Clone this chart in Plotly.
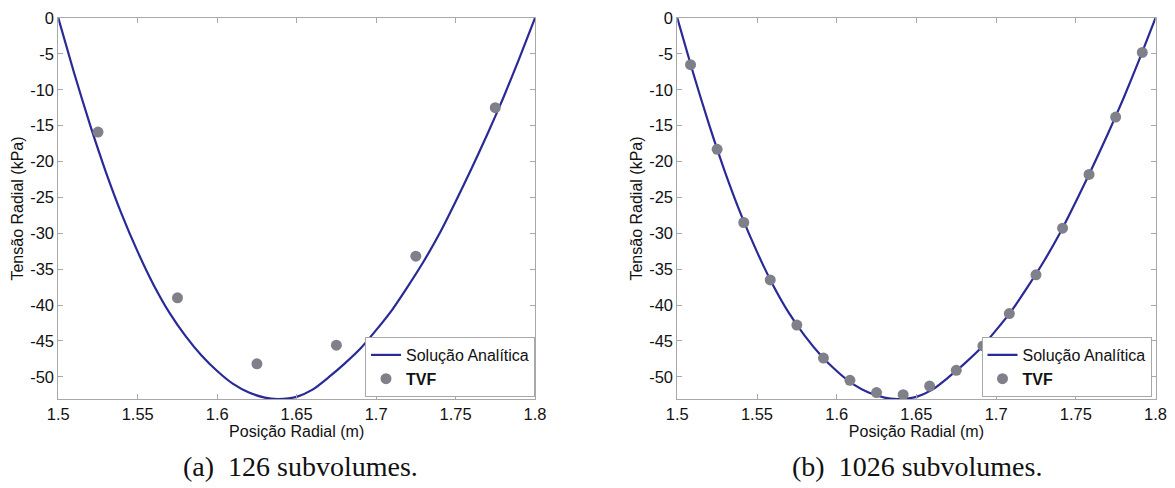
import plotly.graph_objects as go

# Analytical solution
curve_x = [1.500, 1.510, 1.520, 1.530, 1.540, 1.550, 1.560, 1.570, 1.580, 1.590,
           1.600, 1.610, 1.620, 1.630, 1.638, 1.645, 1.650, 1.660, 1.670, 1.680,
           1.690, 1.700, 1.710, 1.720, 1.730, 1.740, 1.750, 1.760, 1.770, 1.780,
           1.790, 1.800]
curve_y = [0.0, -7.7, -14.9, -21.5, -27.4, -32.6, -37.2, -41.1, -44.3, -47.0,
           -49.2, -51.0, -52.2, -52.9, -53.1, -53.0, -52.8, -51.8, -50.1, -48.2,
           -46.1, -43.5, -40.7, -37.4, -33.9, -30.0, -25.6, -21.0, -16.2, -11.15,
           -5.7, 0.0]

# TVF, 126 subvolumes
tvf_a_x = [1.525, 1.575, 1.625, 1.675, 1.725, 1.775]
tvf_a_y = [-15.9, -39.0, -48.2, -45.6, -33.2, -12.5]

# TVF, 1026 subvolumes
tvf_b_x = [1.5083, 1.5250, 1.5417, 1.5583, 1.5750, 1.5917, 1.6083, 1.6250, 1.6417,
           1.6583, 1.6750, 1.6917, 1.7083, 1.7250, 1.7417, 1.7583, 1.7750, 1.7917]
tvf_b_y = [-6.5, -18.3, -28.5, -36.5, -42.8, -47.4, -50.5, -52.2, -52.5,
           -51.3, -49.1, -45.7, -41.2, -35.8, -29.3, -21.8, -13.8, -4.8]

x_ticks = [1.5, 1.55, 1.6, 1.65, 1.7, 1.75, 1.8]
x_labels = ["1.5", "1.55", "1.6", "1.65", "1.7", "1.75", "1.8"]
y_ticks = [0, -5, -10, -15, -20, -25, -30, -35, -40, -45, -50]
y_labels = ["0", "-5", "-10", "-15", "-20", "-25", "-30", "-35", "-40", "-45", "-50"]

captions = ["(a)\u00a0 126 subvolumes.", "(b)\u00a0 1026 subvolumes."]

LINE = "#2a2a96"
MARK = "#80808a"
AX = "#a8a8a8"
FONT = "Liberation Sans, Arial, sans-serif"

fig = go.Figure()

for i, (tx, ty) in enumerate([(tvf_a_x, tvf_a_y), (tvf_b_x, tvf_b_y)]):
    xa = "x" if i == 0 else "x2"
    ya = "y" if i == 0 else "y2"
    lg = "legend" if i == 0 else "legend2"
    fig.add_trace(go.Scatter(x=curve_x, y=curve_y, mode="lines", line=dict(color=LINE, width=2.2, shape="spline", smoothing=0.6),
                             name="Solução Analítica", xaxis=xa, yaxis=ya, legend=lg))
    fig.add_trace(go.Scatter(x=tx, y=ty, mode="markers", marker=dict(color=MARK, size=11),
                             name="<b>TVF</b>", xaxis=xa, yaxis=ya, legend=lg))

axis_common = dict(showline=True, linecolor=AX, linewidth=1, mirror="ticks", ticks="inside",
                   ticklen=5, tickcolor=AX, showgrid=False, zeroline=False, automargin=False,
                   tickfont=dict(family=FONT, size=16.5, color="#111"))

xdoms = [[58.3 / 1175, 535 / 1175], [677.3 / 1175, 1155.5 / 1175]]
ydom = [1 - 399 / 488, 1 - 18 / 488]

layout = dict(width=1175, height=488, margin=dict(l=0, r=0, t=0, b=0, autoexpand=False),
              paper_bgcolor="white", plot_bgcolor="white", font=dict(family=FONT, color="#111"))
for i in range(2):
    sx = "" if i == 0 else "2"
    layout["xaxis" + sx] = dict(axis_common, domain=xdoms[i], range=[1.5, 1.8], tickvals=x_ticks, ticktext=x_labels,
                                anchor="y" + sx,
                                title=dict(text="Posição Radial (m)", font=dict(family=FONT, size=16), standoff=0))
    layout["yaxis" + sx] = dict(axis_common, domain=ydom, range=[-53.1, 0], tickvals=y_ticks, ticktext=y_labels,
                                anchor="x" + sx,
                                title=dict(text="Tensão Radial (kPa)", font=dict(family=FONT, size=16), standoff=2))
    leg = dict(x=xdoms[i][1] - (0 if i == 0 else 4 / 1175), y=1 - 397 / 488, xanchor="right", yanchor="bottom",
               bgcolor="white", bordercolor=AX, borderwidth=1,
               font=dict(family=FONT, size=16, color="#111"), tracegroupgap=0, itemwidth=30)
    layout["legend" if i == 0 else "legend2"] = leg

fig.update_layout(**layout)

for i, cap in enumerate(captions):
    fig.add_annotation(text=cap, x=(300 if i == 0 else 917) / 1175, y=1 - 466 / 488, xref="paper", yref="paper",
                       showarrow=False, xanchor="center", yanchor="middle",
                       font=dict(family="Liberation Serif, Times New Roman, serif", size=28, color="#111"))

fig.write_html("out.html", config={"displayModeBar": False},
               post_script="document.body.style.margin='0';document.body.style.overflow='hidden';")
